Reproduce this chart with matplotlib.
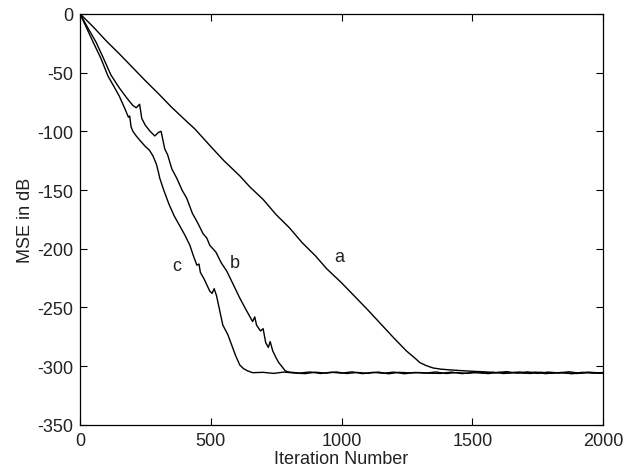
import matplotlib
matplotlib.use("Agg")
import matplotlib.pyplot as plt

plt.rcParams['font.family'] = ['Liberation Sans', 'DejaVu Sans']
plt.rcParams['axes.unicode_minus'] = False

# Curve a
a_x = [0, 50, 100, 150, 200, 250, 300, 350, 400, 439, 500, 550, 611, 650, 700, 750, 800,
       850, 900, 943, 1000, 1050, 1100, 1150, 1200, 1248, 1280, 1300, 1324, 1350, 1380,
       1420, 1460, 1500, 1550, 1590, 1630, 1670, 1710, 1750, 1790, 1830, 1870, 1910, 1950, 2000]
a_y = [0, -11, -23, -34, -45.5, -57, -68, -79.5, -90, -98, -113, -125, -138, -147.5, -158, -171, -182,
       -195, -206, -217, -229, -240.5, -252, -264, -276, -287, -293, -297, -299.5, -301.5, -302.5,
       -303.2, -303.8, -304.3, -304.8, -305.6, -304.6, -305.9, -304.8, -306.1, -305.0, -305.7, -304.7, -306.0, -305.2, -305.8]

# Curve b
b_x = [0, 30, 61, 90, 118, 150, 180, 202, 215, 228, 236, 250, 268, 286, 300, 310, 324, 335, 351,
       370, 390, 408, 430, 450, 470, 485, 496, 520, 540, 561, 585, 611, 630, 650, 660, 668, 675,
       690, 700, 710, 720, 727, 737, 750, 760, 771, 785, 800,
       840, 880, 920, 960, 1000, 1040, 1080, 1120, 1160, 1200, 1240, 1280, 1320, 1360, 1400,
       1440, 1480, 1520, 1560, 1600, 1640, 1680, 1720, 1760, 1800, 1840, 1880, 1920, 1960, 2000]
b_y = [0, -12, -24, -38, -52, -63, -72, -78, -80, -77, -89, -95, -100, -104, -101, -100, -115, -120, -132,
       -140, -150, -157, -170, -178, -187, -191, -197, -203, -212, -219, -230, -242, -250, -258, -262, -258, -265,
       -270, -268, -280, -284, -279, -287, -293, -297, -300, -304, -305,
       -305.8, -304.9, -306.2, -305.1, -305.9, -304.8, -306.3, -305.2, -306.0, -305.0, -306.4, -305.3, -305.9, -304.9, -306.2,
       -305.4, -306.1, -305.0, -306.3, -305.2, -305.8, -304.9, -306.2, -305.1, -306.0, -305.3, -306.4, -305.2, -305.9, -305.4]

# Curve c
c_x = [0, 25, 50, 80, 107, 130, 150, 172, 185, 190, 195, 202, 215, 230, 250, 265, 279, 292, 300, 305,
       320, 340, 360, 380, 400, 420, 435, 447, 455, 460, 475, 496, 505, 513, 522, 546, 565, 580, 595,
       611, 625, 641, 660,
       700, 740, 780, 820, 860, 900, 940, 980, 1020, 1060, 1100, 1140, 1180, 1220, 1260, 1300, 1340,
       1380, 1420, 1460, 1500, 1540, 1580, 1620, 1660, 1700, 1740, 1780, 1820, 1860, 1900, 1940, 1980, 2000]
c_y = [0, -12, -24, -38, -53, -62, -70, -81, -88, -87, -96, -100, -104, -108, -113, -116, -121, -128, -135, -140,
       -150, -162, -172, -180, -188, -197, -207, -214, -213, -220, -226, -236, -238, -234, -240, -265, -273, -282, -291,
       -299, -302, -304, -305.5,
       -305.2, -306.1, -305.0, -305.8, -306.3, -305.1, -305.9, -304.9, -306.2, -305.3, -306.0, -305.0, -306.4, -305.2, -305.7, -305.4, -306.0,
       -306.1, -305.0, -306.3, -305.4, -305.9, -305.1, -306.2, -305.3, -306.0, -305.0, -306.3, -305.5, -305.8, -306.2, -305.1, -306.0, -305.6]

labels = ['a', 'b', 'c']
label_pos = [(992, -207), (592, -212), (370, -214)]

fig = plt.figure(figsize=(6.25, 4.77), dpi=100)
ax = fig.add_axes([0.128, 0.107, 0.837, 0.862])

for xs, ys in [(a_x, a_y), (b_x, b_y), (c_x, c_y)]:
    ax.plot(xs, ys, color='black', lw=1.0)

for lab, (lx, ly) in zip(labels, label_pos):
    ax.text(lx, ly, lab, fontsize=13, ha='center', va='center', color='#222222')

ax.set_xlim(0, 2000)
ax.set_ylim(-350, 0)
ax.set_xticks([0, 500, 1000, 1500, 2000])
ax.set_yticks([-350, -300, -250, -200, -150, -100, -50, 0])
ax.tick_params(direction='in', top=True, right=True, length=5, width=0.8,
               labelsize=13, pad=5, colors='black', labelcolor='#222222')
for s in ax.spines.values():
    s.set_linewidth(0.9)
ax.set_xlabel('Iteration Number', fontsize=13, labelpad=1, color='#222222')
ax.set_ylabel('MSE in dB', fontsize=13, labelpad=2, color='#222222')

fig.savefig('out.png', dpi=100)
